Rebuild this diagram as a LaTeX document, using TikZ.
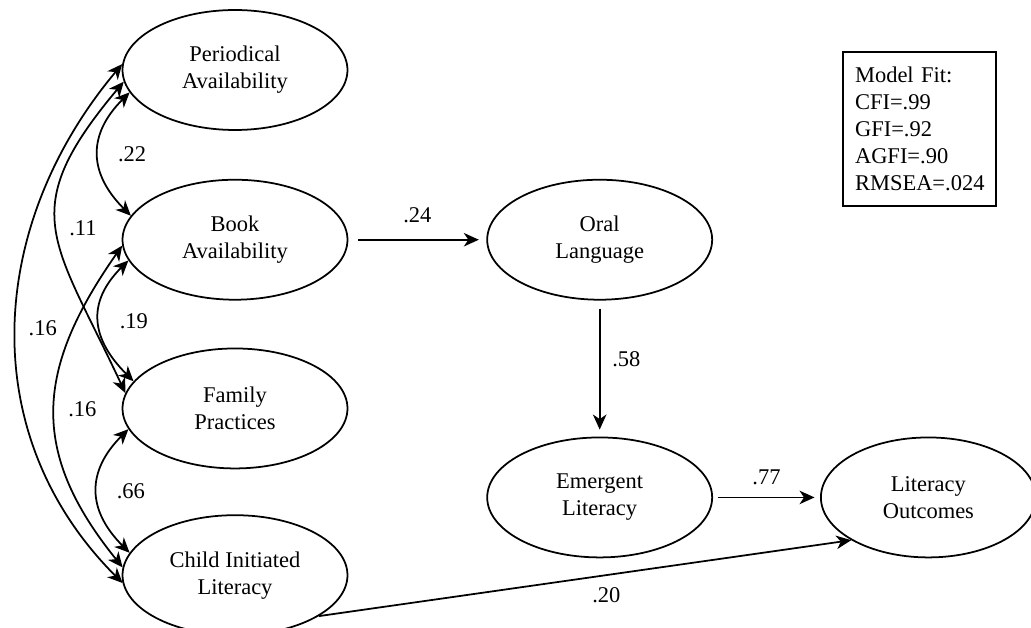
\documentclass[tikz,border=0pt]{standalone}
\usepackage{fontspec}
\setmainfont{Liberation Serif}
\usetikzlibrary{positioning,shapes.geometric,arrows.meta}

\begin{document}
\begin{tikzpicture}[x=0.02cm,y=-0.02cm,>={Stealth[length=3mm,width=2.7mm,inset=0.9mm]},line width=1pt,
  every node/.style={font=\fontsize{12.8}{15.4}\selectfont,align=center},
  latent/.style={draw,ellipse,minimum width=4.5cm,minimum height=2.4cm,inner sep=0pt},
  coef/.style={inner sep=1pt}]
\useasboundingbox (0,0) rectangle (1031,628);
\node[latent] (pa) at (235,70) {Periodical\\Availability};
\node[latent,below=0.96cm of pa] (ba) {Book\\Availability};
\node[latent,below=0.94cm of ba] (fp) {Family\\Practices};
\node[latent,below=0.9cm of fp] (ci) {Child Initiated\\Literacy};
\node[latent,right=2.76cm of ba] (ol) {Oral\\Language};
\node[latent,below=2.72cm of ol] (el) {Emergent\\Literacy};
\node[latent,minimum width=4.3cm,right=2.14cm of el] (lo) {Literacy\\Outcomes};
\node[draw,align=left,text width=2.58cm,inner sep=0.24cm,minimum height=3.08cm] (fit) at (919.5,129) {Model Fit:\\CFI=.99\\GFI=.92\\AGFI=.90\\RMSEA=.024};
% paths
\draw[->,shorten <=0.2cm,shorten >=0.15cm] (ba)--(ol) node[coef,midway,above=0.28cm] {.24};
\draw[->,shorten <=0.16cm,shorten >=0.14cm] (ol)--(el) node[coef,pos=0.43,right=0.2cm] {.58};
\draw[->,shorten <=0.09cm,shorten >=0.11cm] (el)--(lo) node[coef,midway,above=0.2cm] {.77};
\draw[->] (ci.-26)--(lo.-151) node[coef,pos=0.54,below=0.2cm] {.20};
% correlations
\draw[<->] (pa.192) .. controls +(225:1.2cm) and +(135:1.2cm) .. (ba.167) node[coef,pos=0.5,right=0.34cm] {.22};
\draw[<->] (ba.191) .. controls +(225:1.2cm) and +(135:1.2cm) .. (fp.165) node[coef,pos=0.5,right=0.36cm] {.19};
\draw[<->] (fp.191) .. controls +(225:1.2cm) and +(135:1.2cm) .. (ci.168) node[coef,pos=0.5,right=0.34cm] {.66};
\draw[<->] (pa.186) .. controls +(230:3.4cm) and +(115:3.4cm) .. (fp.172) node[coef,pos=0.5,right=0.2cm] {.11};
\draw[<->] (ba.183) .. controls +(235:3cm) and +(129:3cm) .. (ci.176) node[coef,pos=0.5,right=0.22cm] {.16};
\draw[<->] (pa.177) .. controls +(230:4.2cm) and +(135:4.2cm) .. (ci.184) node[coef,pos=0.5,right=0.2cm] {.16};
\end{tikzpicture}
\end{document}
